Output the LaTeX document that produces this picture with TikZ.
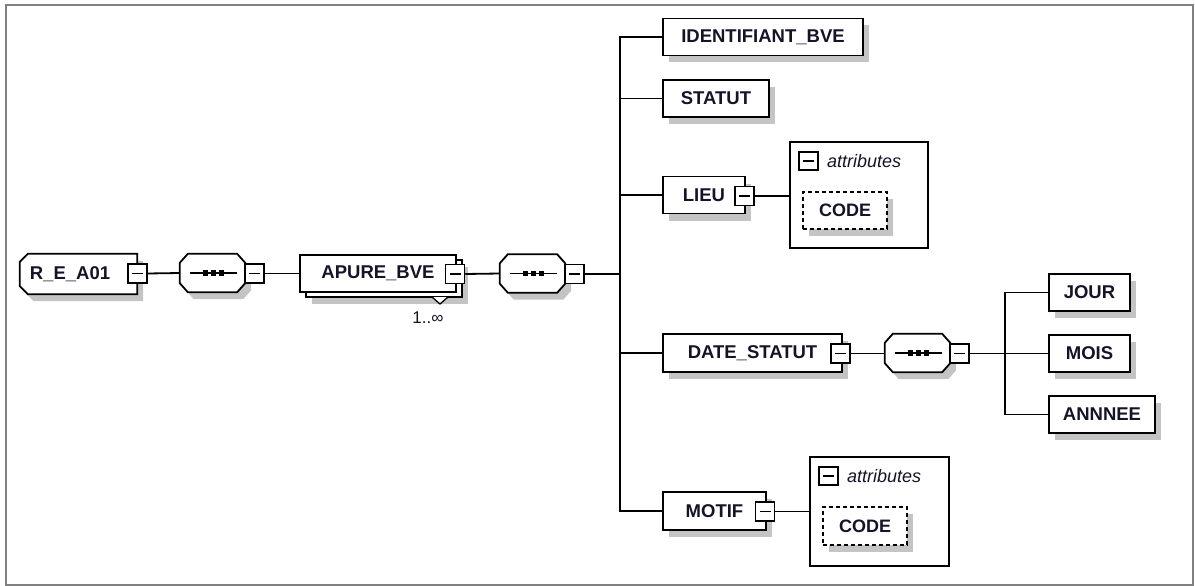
\documentclass[tikz,border=0pt]{standalone}
\usepackage{fontspec}
\setmainfont{Liberation Sans}
\usetikzlibrary{shadows}
\definecolor{shadowgray}{RGB}{196,196,196}
\definecolor{framegray}{RGB}{128,128,128}
\definecolor{inkdark}{RGB}{20,20,40}
\tikzset{
  boxline/.style={line width=1.8pt, draw=black},
  shade box/.style={drop shadow={shadow xshift=6pt, shadow yshift=-7pt, fill=shadowgray, opacity=1}},
  elem/.style={rectangle, boxline, fill=white, inner sep=0pt, shade box,
    font=\fontsize{18.5pt}{20pt}\selectfont\bfseries, text=inkdark,
    minimum width=#1, minimum height=37pt},
  minusbox/.style={rectangle, line width=1.5pt, draw=black, fill=white, inner sep=0pt,
    minimum width=19pt, minimum height=19pt,
    path picture={\draw[line width=1.4pt] ([xshift=4pt]path picture bounding box.west) -- ([xshift=-4pt]path picture bounding box.east);}},
  % invisible frame that the octagonal outlines are built on
  frameonly/.style={rectangle, inner sep=0pt, minimum width=#1, minimum height=38pt},
  % octagon with all four corners cut
  octagon/.style={insert path={
    ([xshift=8pt]#1.north west) -- ([xshift=-8pt]#1.north east) -- ([yshift=-9pt]#1.north east)
    -- ([yshift=9pt]#1.south east) -- ([xshift=-8pt]#1.south east) -- ([xshift=8pt]#1.south west)
    -- ([yshift=9pt]#1.south west) -- ([yshift=-9pt]#1.north west) -- cycle}},
  % outline with only the two left corners cut
  leftcut/.style={insert path={
    ([xshift=8pt]#1.north west) -- (#1.north east) -- (#1.south east) -- ([xshift=8pt]#1.south west)
    -- ([yshift=8pt]#1.south west) -- ([yshift=-8pt]#1.north west) -- cycle}},
  shadowfill/.style={fill=shadowgray, transform canvas={shift={(6pt,-7pt)}}},
  attrbox/.style={rectangle, line width=1.5pt, draw=black, fill=white, inner sep=0pt},
  attrlabel/.style={anchor=west, inner sep=0pt, font=\fontsize{18pt}{20pt}\selectfont\itshape, text=inkdark},
  codebox/.style={rectangle, line width=1.5pt, draw=black, dash pattern=on 4pt off 3pt, fill=white,
    inner sep=0pt, shade box, font=\fontsize{18pt}{20pt}\selectfont\bfseries, text=inkdark,
    minimum width=84pt, minimum height=37pt},
  wire/.style={line width=1.8pt, draw=black},
}
% sequence symbol: a line with three dots across the octagon #1
\newcommand{\seqmark}[1]{%
  \draw[line width=1.6pt] ([xshift=10pt]#1.west) -- ([xshift=-8pt]#1.east);
  \foreach \dx in {-7,1,9}
    \fill ([xshift=\dx pt]#1.center) +(-2.8pt,-2.8pt) rectangle +(2.8pt,2.8pt);
}
\begin{document}
\begin{tikzpicture}[x=1pt, y=-1pt]
  \useasboundingbox (0,0) rectangle (1195,586);
  % outer frame
  \draw[framegray, line width=2pt] (6,5) rectangle (1193,585);

  % root element
  \node[frameonly=117pt, minimum height=40pt] (rea) at (78.5,274) {};
  \path[shadowfill, leftcut=rea];
  \path[boxline, fill=white, leftcut=rea];
  \node[font=\fontsize{18.5pt}{20pt}\selectfont\bfseries, text=inkdark, inner sep=0pt] (reaT) at (70,274) {R\_E\_A01};
  \node[minusbox] (reaM) at (137.5,273.5) {};

  % first sequence
  \node[frameonly=65pt] (c1) at (212.5,273) {};
  \path[shadowfill, octagon=c1];
  \path[boxline, fill=white, octagon=c1];
  \seqmark{c1}
  \node[minusbox] (c1M) at (254.5,273.5) {};

  % APURE_BVE (repeated element)
  \node[rectangle, boxline, fill=white, shade box, minimum width=156pt, minimum height=37pt, inner sep=0pt]
        (apureBack) at (384,278.5) {};
  \node[rectangle, boxline, fill=white, inner sep=0pt, minimum width=156pt, minimum height=37pt,
        font=\fontsize{18.5pt}{20pt}\selectfont\bfseries, text=inkdark] (apure) at (378,273.5) {APURE\_BVE};
  \node[minusbox] (apureM) at (455,274) {};
  \coordinate (triL) at (432,297);
  \coordinate (triT) at (440,304);
  \coordinate (triR) at (448,297);
  \filldraw[fill=white, draw=black, line width=1.3pt] (triL) -- (triT) -- (triR);
  \node[font=\fontsize{17pt}{19pt}\selectfont, text=inkdark, inner sep=0pt] (mult) at (428,318) {1..∞};

  % second sequence
  \node[frameonly=65pt] (c2) at (532.5,273.5) {};
  \path[shadowfill, octagon=c2];
  \path[boxline, fill=white, octagon=c2];
  \seqmark{c2}
  \node[minusbox] (c2M) at (574.5,274) {};
  \coordinate (t1) at (620,274);

  % children of the sequence
  \node[elem=200pt] (ident) at (763,37) {IDENTIFIANT\_BVE};
  \node[elem=106pt] (statut) at (716,98.5) {STATUT};
  \node[elem=82pt] (lieu) at (704,195) {LIEU};
  \node[minusbox] (lieuM) at (744.5,196) {};
  \node[elem=179pt, minimum height=38pt] (date) at (752.5,353) {DATE\_STATUT};
  \node[minusbox] (dateM) at (840.5,353.5) {};
  \node[elem=103pt, minimum height=38pt] (motif) at (714.5,511) {MOTIF};
  \node[minusbox] (motifM) at (765,511.5) {};

  % attributes of LIEU
  \node[attrbox, minimum width=138pt, minimum height=106pt] (att1) at (859,195) {};
  \node[minusbox, minimum height=18pt] (att1M) at (808.5,161) {};
  \node[attrlabel] (att1L) at (827,161) {attributes};
  \node[codebox] (code1) at (845,210.5) {CODE};

  % sequence inside DATE_STATUT
  \node[frameonly=65pt] (c3) at (917.5,353) {};
  \path[shadowfill, octagon=c3];
  \path[boxline, fill=white, octagon=c3];
  \seqmark{c3}
  \node[minusbox] (c3M) at (959.5,353.5) {};
  \coordinate (t2) at (1005,353.5);
  \node[elem=81pt] (jour) at (1089.5,292.5) {JOUR};
  \node[elem=81pt] (mois) at (1089.5,353.5) {MOIS};
  \node[elem=106pt] (annee) at (1102,414.5) {ANNNEE};

  % attributes of MOTIF
  \node[attrbox, minimum width=139pt, minimum height=109pt] (att2) at (879.5,511.5) {};
  \node[minusbox, minimum height=18pt] (att2M) at (828.5,476) {};
  \node[attrlabel] (att2L) at (847,476) {attributes};
  \node[codebox, minimum height=38pt] (code2) at (865,526) {CODE};

  % connectors
  \draw[wire] (reaM.east) -- (c1.west);
  \draw[wire] (c1M.east) -- (apure.west);
  \draw[wire] (apureM.east) -- (c2.west);
  \draw[wire] (c2M.east) -- (t1);
  \draw[wire] (t1) |- (ident.west);
  \draw[wire] (t1) |- (statut.west);
  \draw[wire] (t1) |- (lieu.west);
  \draw[wire] (t1) |- (date.west);
  \draw[wire] (t1) |- (motif.west);
  \draw[wire] (lieuM.east) -- (att1.west |- lieuM.east);
  \draw[wire] (dateM.east) -- (c3.west |- dateM.east);
  \draw[wire] (c3M.east) -- (t2);
  \draw[wire] (t2) |- (jour.west);
  \draw[wire] (t2) -- (mois.west);
  \draw[wire] (t2) |- (annee.west);
  \draw[wire] (motifM.east) -- (att2.west |- motifM.east);
\end{tikzpicture}
\end{document}
